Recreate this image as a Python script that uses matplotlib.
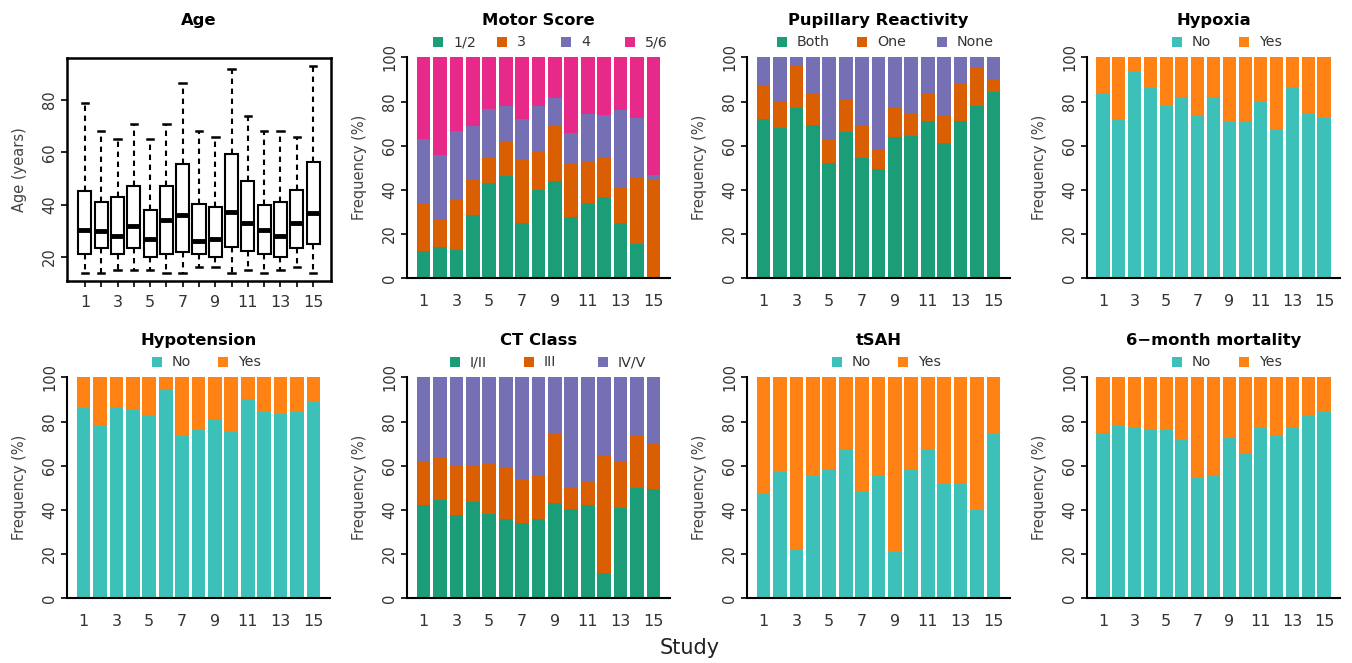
import matplotlib
matplotlib.use("Agg")
import matplotlib.pyplot as plt
from matplotlib.patches import Rectangle
import numpy as np

W, H = 1352, 663

studies = list(range(1, 16))

# ---- Age box plot summaries (years) ----
age_whislo = [14, 14, 15, 15, 15, 14, 14, 16, 16, 14, 15, 14, 15, 16, 14]
age_q1 = [21, 23.3, 21, 23.3, 20, 21, 22, 21, 20, 24, 22.4, 21, 20, 23.3, 25]
age_med = [30.3, 30, 28, 32, 27, 34, 36, 26, 27, 37.3, 33, 30.3, 28, 33, 37]
age_q3 = [45.2, 41.1, 43, 47.3, 38, 47, 55.4, 40.3, 39, 59.2, 49, 40, 40.9, 45.6, 56.2]
age_whishi = [79, 68, 65, 71, 65, 71, 86.5, 68, 66, 92, 74, 68, 68, 66, 93]

# ---- Motor score (%) ----
motor_labels = ["1/2", "3", "4", "5/6"]
motor_12 = [12.4, 14.2, 13, 28.7, 43.3, 46.5, 24.9, 40, 44.2, 27.9, 33.9, 37, 24.9, 15.4, 0]
motor_3 = [21.2, 12.6, 22.4, 15.8, 11, 15.3, 29.1, 17.6, 24.7, 24.1, 18.6, 17.3, 16.3, 30.6, 45]
motor_4 = [29.3, 29, 31.3, 24.4, 22.2, 16.2, 18, 20.4, 12.8, 13.6, 21.9, 19.6, 35, 26.4, 1.8]
motor_56 = [37.1, 44.2, 33.3, 31.1, 23.5, 22, 28, 22, 18.3, 34.4, 25.6, 26.1, 23.8, 27.6, 53.2]

# ---- Pupillary reactivity (%) ----
pupil_labels = ["Both", "One", "None"]
pupil_both = [72, 68.2, 77.2, 69.4, 52, 66, 54.6, 49.5, 64.1, 64.6, 71.2, 61.1, 71.2, 78, 84.5]
pupil_one = [15.5, 11.8, 19, 13.9, 10.6, 14.7, 14.3, 8.9, 13.6, 9.8, 12.1, 12.8, 16.6, 17.8, 5.2]
pupil_none = [12.5, 20, 3.8, 16.7, 37.4, 19.3, 31.1, 41.6, 22.3, 25.6, 16.7, 26.1, 12.2, 4.2, 10.3]

# ---- CT class (%) ----
ct_labels = ["I/II", "III", "IV/V"]
ct_12 = [42, 44.5, 37.5, 43.5, 38, 36, 34, 36, 43, 40.5, 42, 11.5, 41, 50, 49.5]
ct_3 = [20, 19, 23, 16.5, 23, 23, 20, 20, 31.5, 10, 11, 53, 20.5, 24, 20.5]
ct_45 = [38, 36.5, 39.5, 40, 39, 41, 46, 44, 25.5, 49.5, 47, 35.5, 38.5, 26, 30]

# ---- Binary variables: % "No" ----
yn_labels = ["No", "Yes"]
hypoxia_no = [84, 72, 94, 86, 78, 82, 74, 82, 70.5, 71, 80, 67, 86.5, 75, 72.5]
hypotension_no = [86, 78, 86.5, 85, 83, 94.5, 73.5, 76, 81, 75.5, 90, 84.5, 83.5, 84.5, 89]
tsah_no = [47, 57, 22, 55.5, 58.5, 67.5, 48, 55.5, 21, 58.5, 67, 52, 52, 40, 74.5]
mort_no = [75, 78, 77, 76.5, 76, 71.5, 54.5, 56, 72.5, 65.5, 77, 73.5, 77.5, 83, 84.5]

DARK2 = ["#1B9E77", "#D95F02", "#7570B3", "#E7298A"]
YN = ["#3CC0B7", "#FF8214"]
TXT = "#333333"

fig = plt.figure(figsize=(W / 100, H / 100), dpi=100)


def add_ax(x0, y0, x1, y1):
    return fig.add_axes([x0 / W, 1 - y1 / H, (x1 - x0) / W, (y1 - y0) / H])


def title(cx, cy, text):
    fig.text(cx / W, 1 - cy / H, text, ha="center", va="center",
             fontsize=11.8, fontweight="bold", color="black")


def legend(x_left, cy, labels, colors, offset, spacing):
    for i, (lab, c) in enumerate(zip(labels, colors)):
        cx = x_left + offset + i * spacing
        fig.add_artist(Rectangle(((cx - 5) / W, 1 - (cy + 5) / H), 10 / W, 10 / H,
                                 transform=fig.transFigure, facecolor=c,
                                 edgecolor="none"))
        fig.text((cx + 15) / W, 1 - cy / H, lab, ha="left", va="center",
                 fontsize=10.3, color=TXT)


def bar_panel(x0, x1, y0, y1, name, series, labels, colors, leg_off, leg_sp):
    ax = add_ax(x0, y0, x1, y1)
    centers = 0.7 + 1.2 * np.arange(len(studies))
    bottom = np.zeros(len(studies))
    for vals, c in zip(series, colors):
        v = np.array(vals, dtype=float)
        ax.bar(centers, v, width=1.0, bottom=bottom, color=c, linewidth=0)
        bottom += v
    ax.set_xlim(-0.512, 18.712)
    ax.set_ylim(0, 100)
    for s in ["top", "right"]:
        ax.spines[s].set_visible(False)
    for s in ["left", "bottom"]:
        ax.spines[s].set_linewidth(1.5)
        ax.spines[s].set_color("black")
    ax.set_xticks(centers[::2])
    ax.set_xticklabels([str(s) for s in studies[::2]])
    ax.tick_params(axis="x", length=0, pad=11, labelsize=11.5, labelcolor=TXT)
    ax.set_yticks([0, 20, 40, 60, 80, 100])
    ax.tick_params(axis="y", length=4, width=1.2, pad=3, labelsize=10.5,
                   labelcolor=TXT)
    for t in ax.get_yticklabels():
        t.set_rotation(90)
        t.set_va("center")
    ax.set_ylabel("Frequency (%)", fontsize=10.5, color="#444444")
    ax.yaxis.set_label_coords(-40 / (x1 - x0), 0.5)
    title((x0 + x1) / 2, y0 - 37, name)
    legend(x0, y0 - 15, labels, colors, leg_off, leg_sp)
    return ax


# ---- Age panel ----
axa = add_ax(67, 57.7, 331, 281)
stats = []
for lo, q1, med, q3, hi in zip(age_whislo, age_q1, age_med, age_q3, age_whishi):
    stats.append(dict(whislo=lo, q1=q1, med=med, q3=q3, whishi=hi, fliers=[]))
axa.bxp(stats, positions=studies, widths=0.8, showfliers=False,
        patch_artist=True, capwidths=0.4,
        boxprops=dict(facecolor="white", edgecolor="black", linewidth=1.5),
        medianprops=dict(color="black", linewidth=3.5, solid_capstyle="butt"),
        whiskerprops=dict(color="black", linewidth=1.5, linestyle=(0, (2.6, 2.2))),
        capprops=dict(color="black", linewidth=1.8))
axa.set_xlim(-0.1, 16.1)
axa.set_ylim(10.84, 96.16)
for s in axa.spines.values():
    s.set_linewidth(1.8)
axa.set_xticks(studies)
axa.set_xticklabels([str(s) if s % 2 == 1 else "" for s in studies])
axa.tick_params(axis="x", length=4, width=1.2, pad=6, labelsize=11.5, labelcolor=TXT)
axa.set_yticks([20, 40, 60, 80])
axa.tick_params(axis="y", length=4, width=1.2, pad=3, labelsize=10.5, labelcolor=TXT)
for t in axa.get_yticklabels():
    t.set_rotation(90)
    t.set_va("center")
axa.set_ylabel("Age (years)", fontsize=10.5, color="#444444")
axa.yaxis.set_label_coords(-40 / 264, 0.5)
title(199, 20, "Age")

# ---- Bar panels ----
R1 = (57.3, 278.3)
R2 = (377.3, 598.3)
bar_panel(407, 670, *R1, "Motor Score", [motor_12, motor_3, motor_4, motor_56],
          motor_labels, DARK2, 31, 64)
bar_panel(747, 1010, *R1, "Pupillary Reactivity", [pupil_both, pupil_one, pupil_none],
          pupil_labels, DARK2[:3], 35, 80)
bar_panel(1087, 1340, *R1, "Hypoxia",
          [hypoxia_no, [100 - v for v in hypoxia_no]], yn_labels, YN, 90, 67)
bar_panel(67, 330, *R2, "Hypotension",
          [hypotension_no, [100 - v for v in hypotension_no]], yn_labels, YN, 90, 66)
bar_panel(407, 670, *R2, "CT Class", [ct_12, ct_3, ct_45],
          ct_labels, DARK2[:3], 48, 74)
bar_panel(747, 1010, *R2, "tSAH",
          [tsah_no, [100 - v for v in tsah_no]], yn_labels, YN, 90, 66)
bar_panel(1087, 1340, *R2, "6\u2212month mortality",
          [mort_no, [100 - v for v in mort_no]], yn_labels, YN, 90, 67)

fig.text(690 / W, 1 - 648 / H, "Study", ha="center", va="center", fontsize=15,
         color="#222222")

fig.savefig("out.png", dpi=100)
